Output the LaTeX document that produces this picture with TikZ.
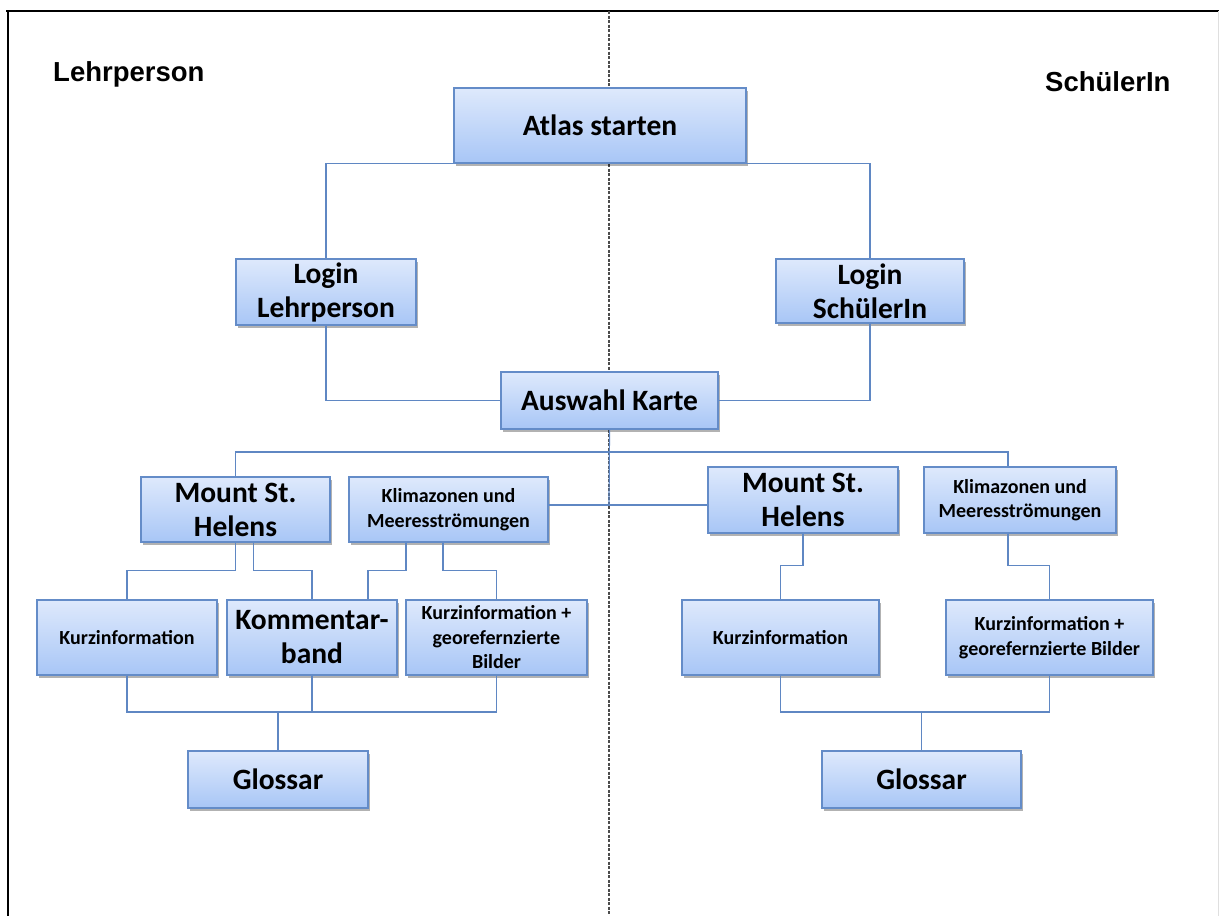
\documentclass[tikz,border=0pt]{standalone}
\usepackage{fontspec}
\setmainfont{Carlito}
\newfontfamily\arialfont{Liberation Sans}
\usetikzlibrary{shadows}
\definecolor{boxtop}{RGB}{222,233,252}
\definecolor{boxbot}{RGB}{168,198,246}
\definecolor{boxdraw}{RGB}{100,140,200}
\definecolor{conn}{RGB}{95,135,195}
\tikzset{
  box/.style={draw=boxdraw, line width=1.1pt, top color=boxtop, bottom color=boxbot,
    inner sep=0pt, align=center, text=black,
    drop shadow={shadow xshift=2pt, shadow yshift=-2.5pt, opacity=0.3, fill=black}},
  big/.style={box, font=\fontsize{29.5}{34}\selectfont\bfseries},
  small/.style={box, font=\fontsize{20}{24.5}\selectfont\bfseries},
  link/.style={draw=conn, line width=1.2pt},
  side/.style={font=\arialfont\fontsize{27.5}{30}\selectfont\bfseries, inner sep=0pt, anchor=base west}
}
\begin{document}
\begin{tikzpicture}[x=1pt, y=-1pt]
\useasboundingbox (0,0) rectangle (1219,916);
\fill[white] (0,0) rectangle (1219,916);
% frame
\draw[line width=2.5pt] (6,11) -- (1219,11);
\draw[line width=2.5pt] (8,11) -- (8,916);
\draw[gray!25, line width=1pt] (1218,11) -- (1218,916);
% divider
\draw[gray!60!black, line width=1.8pt, dash pattern=on 3pt off 1.5pt] (609,11) -- (609,916);
% side labels
\node[side] (lehr) at (53,81) {Lehrperson};
\node[side] (schuel) at (1045,91) {SchülerIn};
% nodes
\node[big, minimum width=292pt, minimum height=75pt] (atlas) at (600,125.5) {Atlas starten};
\node[big, minimum width=180pt, minimum height=66pt] (loginL) at (326,292) {Login\\Lehrperson};
\node[big, minimum width=188pt, minimum height=64pt] (loginS) at (870,291) {Login\\SchülerIn};
\node[big, minimum width=217pt, minimum height=57pt] (auswahl) at (609.5,400.5) {Auswahl Karte};
\node[big, minimum width=189pt, minimum height=65pt] (mshL) at (235.5,509.5) {Mount St.\\Helens};
\node[small, minimum width=199pt, minimum height=65pt] (klimaL) at (448.5,509.5) {Klimazonen und\\Meeresströmungen};
\node[small, minimum width=180pt, minimum height=75pt] (kurzL) at (127,637.5) {Kurzinformation};
\node[big, minimum width=170pt, minimum height=75pt] (komm) at (312,637.5) {Kommentar-\\band};
\node[small, minimum width=181pt, minimum height=75pt] (kgeoL) at (496.5,637.5) {Kurzinformation +\\georefernzierte\\Bilder};
\node[big, minimum width=180pt, minimum height=57pt] (glossL) at (278,779.5) {Glossar};
\node[big, minimum width=190pt, minimum height=66pt] (mshR) at (803,500) {Mount St.\\Helens};
\node[small, minimum width=192pt, minimum height=66pt] (klimaR) at (1020,500) {Klimazonen und\\Meeresströmungen};
\node[small, minimum width=197pt, minimum height=75pt] (kurzR) at (780.5,637.5) {Kurzinformation};
\node[small, minimum width=207pt, minimum height=75pt] (kgeoR) at (1049.5,637.5) {Kurzinformation +\\georefernzierte Bilder};
\node[big, minimum width=199pt, minimum height=57pt] (glossR) at (921.5,779.5) {Glossar};
% bus coordinates
\coordinate (bus1) at (609,452);
\coordinate (bus2) at (609,505);
\coordinate (busL) at (278,712);
\coordinate (busR) at (921.5,712);
% connectors
\draw[link] (atlas.south west) -| (loginL.north);
\draw[link] (atlas.south east) -| (loginS.north);
\draw[link] (loginL.south) |- (auswahl.west);
\draw[link] (loginS.south) |- (auswahl.east);
\draw[link] (auswahl.south) -- (bus2);
\draw[link] (mshL.north) |- (bus1) -| ([xshift=-12pt]klimaR.north);
\draw[link] (klimaL.east |- bus2) -- (mshR.west |- bus2);
\draw[link] (mshL.south) -- ++(0,28) -| (kurzL.north);
\draw[link] ([xshift=18pt]mshL.south) -- ++(0,28) -| (komm.north);
\draw[link] ([xshift=-42.5pt]klimaL.south) -- ++(0,28) -| ([xshift=56pt]komm.north);
\draw[link] ([xshift=-5.5pt]klimaL.south) -- ++(0,28) -| (kgeoL.north);
\draw[link] (kurzL.south) |- (busL);
\draw[link] (kgeoL.south) |- (busL);
\draw[link] (komm.south) -- (komm.south |- busL);
\draw[link] (busL) -- (glossL.north);
\draw[link] (mshR.south) -- ++(0,32) -| (kurzR.north);
\draw[link] ([xshift=-12pt]klimaR.south) -- ++(0,32) -| (kgeoR.north);
\draw[link] (kurzR.south) |- (busR);
\draw[link] (kgeoR.south) |- (busR);
\draw[link] (busR) -- (glossR.north);
\end{tikzpicture}
\end{document}
